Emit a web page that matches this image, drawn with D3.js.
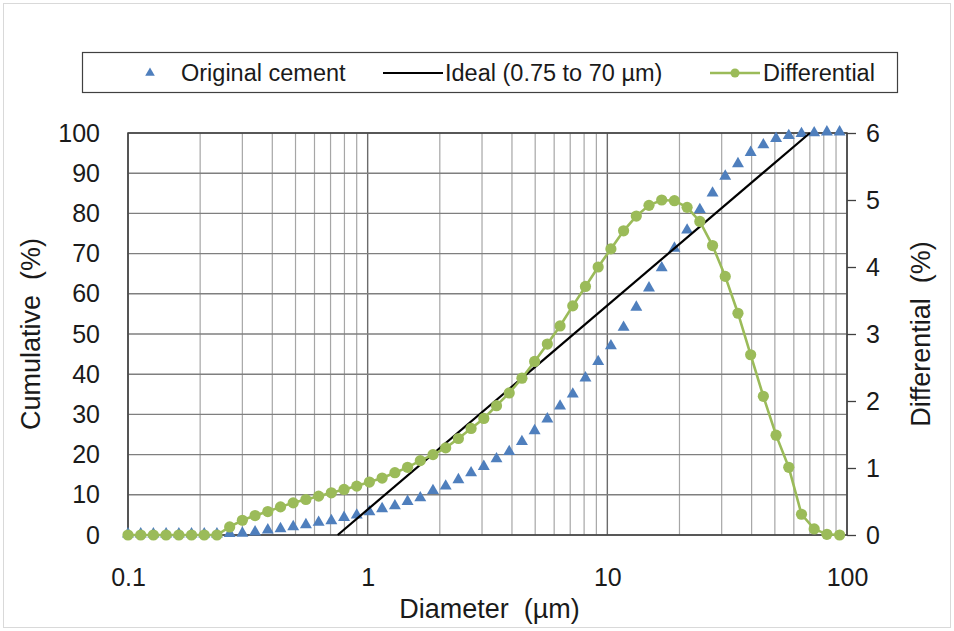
<!DOCTYPE html>
<html>
<head>
<meta charset="utf-8">
<script src="https://cdn.jsdelivr.net/npm/d3@7/dist/d3.min.js"></script>
<style>
  html, body { margin: 0; padding: 0; background: #fff; }
  svg text { font-family: "Liberation Sans", Arial, sans-serif; fill: #1a1a1a; }
</style>
</head>
<body>
<svg id="chart" width="954" height="631"></svg>
<script>
// Particle size channels (µm)
const diameters = [
  0.100, 0.113, 0.1276, 0.1442, 0.163, 0.1841, 0.208, 0.235, 0.2656, 0.3001,
  0.339, 0.3831, 0.4328, 0.489, 0.5525, 0.6243, 0.7053, 0.7969, 0.9004, 1.017,
  1.149, 1.299, 1.467, 1.658, 1.873, 2.116, 2.391, 2.701, 3.052, 3.448,
  3.896, 4.402, 4.973, 5.62, 6.349, 7.174, 8.105, 9.157, 10.35, 11.69,
  13.21, 14.92, 16.86, 19.05, 21.52, 24.32, 27.48, 31.04, 35.08, 39.63,
  44.77, 50.59, 57.15, 64.58, 72.96, 82.44, 93.14
];
// Cumulative passing of the original cement (%)
const cumulative = [
  0, 0, 0, 0, 0, 0, 0, 0, 0.1, 0.2,
  0.5, 1.0, 1.3, 1.8, 2.3, 2.9, 3.3, 4.1, 4.7, 5.5,
  6.3, 7.0, 8.1, 9.0, 10.8, 11.9, 13.5, 15.2, 16.8, 18.7,
  20.5, 23.0, 25.7, 28.6, 31.8, 34.8, 38.8, 42.9, 46.8, 51.4,
  56.4, 61.2, 66.2, 71.1, 75.6, 80.7, 84.8, 89.0, 92.1, 94.9,
  96.8, 98.4, 99.1, 99.6, 99.8, 100, 100
];
// Differential volume (%)
const differential = [
  0, 0, 0, 0, 0, 0, 0, 0, 0.12, 0.22,
  0.29, 0.35, 0.42, 0.48, 0.53, 0.58, 0.63, 0.68, 0.73, 0.79,
  0.85, 0.93, 1.01, 1.11, 1.20, 1.30, 1.44, 1.59, 1.74, 1.93,
  2.12, 2.34, 2.59, 2.85, 3.12, 3.42, 3.71, 4.00, 4.27, 4.54,
  4.76, 4.92, 5.00, 4.99, 4.89, 4.68, 4.32, 3.86, 3.31, 2.69,
  2.07, 1.49, 1.01, 0.31, 0.09, 0.01, 0
];
// Ideal grading line between 0.75 and 70 µm
const idealDiameter = [0.75, 70];
const idealCumulative = [0, 100];

const xTickValues = [0.1, 1, 10, 100];
const xTickLabels = ["0.1", "1", "10", "100"];
const yLeftTicks = [0, 10, 20, 30, 40, 50, 60, 70, 80, 90, 100];
const yRightTicks = [0, 1, 2, 3, 4, 5, 6];

const seriesNames = ["Original cement", "Ideal (0.75 to 70 µm)", "Differential"];
const blue = "#4f7fbd", green = "#9bbb59";

const svg = d3.select("#chart");
const plot = { left: 128, right: 847, top: 133, bottom: 535 };

const x = d3.scaleLog().domain([0.1, 100]).range([plot.left, plot.right]);
const yL = d3.scaleLinear().domain([0, 100]).range([plot.bottom, plot.top]);
const yR = d3.scaleLinear().domain([0, 6]).range([plot.bottom, plot.top]);

// outer chart frame
svg.append("rect").attr("x", 3.5).attr("y", 3.5).attr("width", 947).attr("height", 624)
  .attr("fill", "#fff").attr("stroke", "#d9d9d9").attr("stroke-width", 1);

// vertical grid: minor (2..9) and decade lines
const minorX = [];
[0.1, 1, 10].forEach(dec => { for (let m = 2; m <= 9; m++) minorX.push(dec * m); });
svg.append("g").selectAll("line").data(minorX).join("line")
  .attr("x1", d => x(d)).attr("x2", d => x(d))
  .attr("y1", plot.top).attr("y2", plot.bottom)
  .attr("stroke", "#a6a6a6").attr("stroke-width", 1.2);
svg.append("g").selectAll("line").data(xTickValues).join("line")
  .attr("x1", d => x(d)).attr("x2", d => x(d))
  .attr("y1", plot.top).attr("y2", plot.bottom)
  .attr("stroke", "#6b6b6b").attr("stroke-width", 1.4);

// horizontal grid
svg.append("g").selectAll("line").data(yLeftTicks).join("line")
  .attr("x1", plot.left).attr("x2", plot.right)
  .attr("y1", d => yL(d)).attr("y2", d => yL(d))
  .attr("stroke", "#7f7f7f").attr("stroke-width", 1.4);

// plot border
svg.append("rect").attr("x", plot.left).attr("y", plot.top)
  .attr("width", plot.right - plot.left).attr("height", plot.bottom - plot.top)
  .attr("fill", "none").attr("stroke", "#404040").attr("stroke-width", 1.5);

// left axis labels
const leftAxis = d3.axisLeft(yL).tickValues(yLeftTicks).tickSize(0).tickPadding(28);
const gL = svg.append("g").attr("transform", `translate(${plot.left},0)`).call(leftAxis);
gL.select(".domain").remove();
gL.selectAll("text").attr("font-size", 25).attr("fill", "#1a1a1a");

// right axis with outward ticks
const rightAxis = d3.axisRight(yR).tickValues(yRightTicks).tickFormat(d3.format("d"))
  .tickSize(9).tickPadding(10);
const gR = svg.append("g").attr("transform", `translate(${plot.right},0)`).call(rightAxis);
gR.select(".domain").remove();
gR.selectAll("line").attr("stroke", "#404040").attr("stroke-width", 1.3);
gR.selectAll("text").attr("font-size", 25).attr("fill", "#1a1a1a");

// bottom axis labels
const bottomAxis = d3.axisBottom(x).tickValues(xTickValues)
  .tickFormat((d, i) => xTickLabels[i]).tickSize(0).tickPadding(51);
const gB = svg.append("g").attr("transform", `translate(0,${plot.bottom})`).call(bottomAxis);
gB.select(".domain").remove();
gB.selectAll("text").attr("font-size", 25).attr("fill", "#1a1a1a").attr("dy", 0);

// axis titles
svg.append("text").attr("x", (plot.left + plot.right) / 2 + 2).attr("y", 618)
  .attr("text-anchor", "middle").attr("font-size", 27).attr("xml:space", "preserve")
  .text("Diameter  (µm)");
svg.append("text").attr("transform", `translate(40,${(plot.top + plot.bottom) / 2}) rotate(-90)`)
  .attr("text-anchor", "middle").attr("font-size", 27).attr("xml:space", "preserve")
  .text("Cumulative  (%)");
svg.append("text").attr("transform", `translate(930,${(plot.top + plot.bottom) / 2}) rotate(-90)`)
  .attr("text-anchor", "middle").attr("font-size", 27).attr("xml:space", "preserve")
  .text("Differential  (%)");

// series: original cement (triangles)
const tri = d3.symbol().type(d3.symbolTriangle).size(62);
const cumPts = diameters.map((d, i) => [d, cumulative[i]]);
svg.append("g").selectAll("path").data(cumPts).join("path")
  .attr("d", tri)
  .attr("transform", d => `translate(${x(d[0])},${yL(d[1]) - 1})`)
  .attr("fill", blue);

// series: ideal line
const idealPts = idealDiameter.map((d, i) => [d, idealCumulative[i]]);
svg.append("path").datum(idealPts)
  .attr("d", d3.line().x(d => x(d[0])).y(d => yL(d[1])))
  .attr("fill", "none").attr("stroke", "#000").attr("stroke-width", 2.2);

// series: differential (secondary axis)
const diffPts = diameters.map((d, i) => [d, differential[i]]);
svg.append("path").datum(diffPts)
  .attr("d", d3.line().x(d => x(d[0])).y(d => yR(d[1])))
  .attr("fill", "none").attr("stroke", green).attr("stroke-width", 2.6);
svg.append("g").selectAll("circle").data(diffPts).join("circle")
  .attr("cx", d => x(d[0])).attr("cy", d => yR(d[1])).attr("r", 5.6)
  .attr("fill", green);

// legend
const lg = svg.append("g");
lg.append("rect").attr("x", 82.5).attr("y", 52.5).attr("width", 815).attr("height", 40)
  .attr("fill", "#fff").attr("stroke", "#404040").attr("stroke-width", 1.2);
const ly = 73;
lg.append("path").attr("d", d3.symbol().type(d3.symbolTriangle).size(40))
  .attr("transform", `translate(150,${ly})`).attr("fill", blue);
lg.append("text").attr("x", 181).attr("y", ly).attr("dy", "0.35em")
  .attr("font-size", 23.5).text(seriesNames[0]);
lg.append("line").attr("x1", 383).attr("x2", 443).attr("y1", ly).attr("y2", ly)
  .attr("stroke", "#000").attr("stroke-width", 2.2);
lg.append("text").attr("x", 445).attr("y", ly).attr("dy", "0.35em")
  .attr("font-size", 23.5).text(seriesNames[1]);
lg.append("line").attr("x1", 710).attr("x2", 760).attr("y1", ly).attr("y2", ly)
  .attr("stroke", green).attr("stroke-width", 2.6);
lg.append("circle").attr("cx", 735).attr("cy", ly).attr("r", 4.5).attr("fill", green);
lg.append("text").attr("x", 763).attr("y", ly).attr("dy", "0.35em")
  .attr("font-size", 23.5).text(seriesNames[2]);
</script>
</body>
</html>
